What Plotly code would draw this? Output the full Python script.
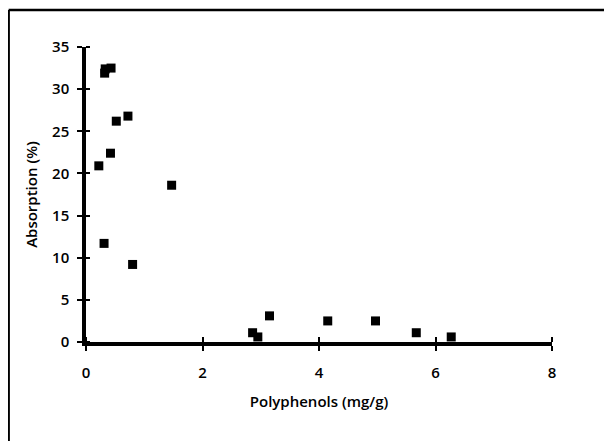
import plotly.graph_objects as go

polyphenols = [0.22, 0.31, 0.32, 0.33, 0.43, 0.42, 0.52, 0.72, 0.80, 1.47,
               2.86, 2.95, 3.15, 4.15, 4.97, 5.67, 6.27]
absorption = [20.9, 11.7, 31.9, 32.4, 32.5, 22.4, 26.2, 26.8, 9.2, 18.6,
              1.1, 0.6, 3.1, 2.5, 2.5, 1.1, 0.6]
x_ticks = [0, 2, 4, 6, 8]
y_ticks = [0, 5, 10, 15, 20, 25, 30, 35]

FONT = "Open Sans"
TFONT = dict(family=FONT, size=15, color="black", weight=600)

fig = go.Figure()
fig.add_trace(go.Scatter(
    x=polyphenols, y=absorption, mode="markers",
    marker=dict(symbol="square", size=9, color="black"),
    cliponaxis=False, showlegend=False, hoverinfo="skip"))

axis_common = dict(showgrid=False, zeroline=False, tickcolor="black",
                   tickwidth=2, ticklen=5, tickfont=TFONT, automargin=False,
                   showline=True, linecolor="black", linewidth=3.5, ticks="outside")

fig.update_layout(
    width=612, height=441,
    margin=dict(l=78, r=68, t=39, b=107),
    paper_bgcolor="white", plot_bgcolor="white",
    font=TFONT,
    xaxis=dict(range=[0, 8], tickvals=x_ticks,
               ticklabelstandoff=9,
               minor=dict(tickvals=x_ticks, ticks="inside", ticklen=5,
                          tickwidth=2, tickcolor="black", showgrid=False),
               title=dict(text="Polyphenols (mg/g)", font=TFONT, standoff=17),
               **axis_common),
    yaxis=dict(range=[0, 35], tickvals=y_ticks,
               ticklabelstandoff=5,
               minor=dict(tickvals=y_ticks, ticks="inside", ticklen=4,
                          tickwidth=2, tickcolor="black", showgrid=False),
               title=dict(text="Absorption (%)", font=TFONT, standoff=12),
               **axis_common),
    shapes=[
        dict(type="line", xref="paper", yref="paper",
             x0=-0.166, x1=1.25, y0=1.1254, y1=1.1254,
             line=dict(color="black", width=2.5)),
        dict(type="line", xref="paper", yref="paper",
             x0=-0.166, x1=-0.166, y0=1.1254, y1=-0.38,
             line=dict(color="black", width=2.5)),
        dict(type="line", xref="paper", yref="paper",
             x0=1.1266, x1=1.1266, y0=0.278, y1=0.532,
             line=dict(color="gray", width=1.5)),
    ],
)

fig.write_html("out.html")
